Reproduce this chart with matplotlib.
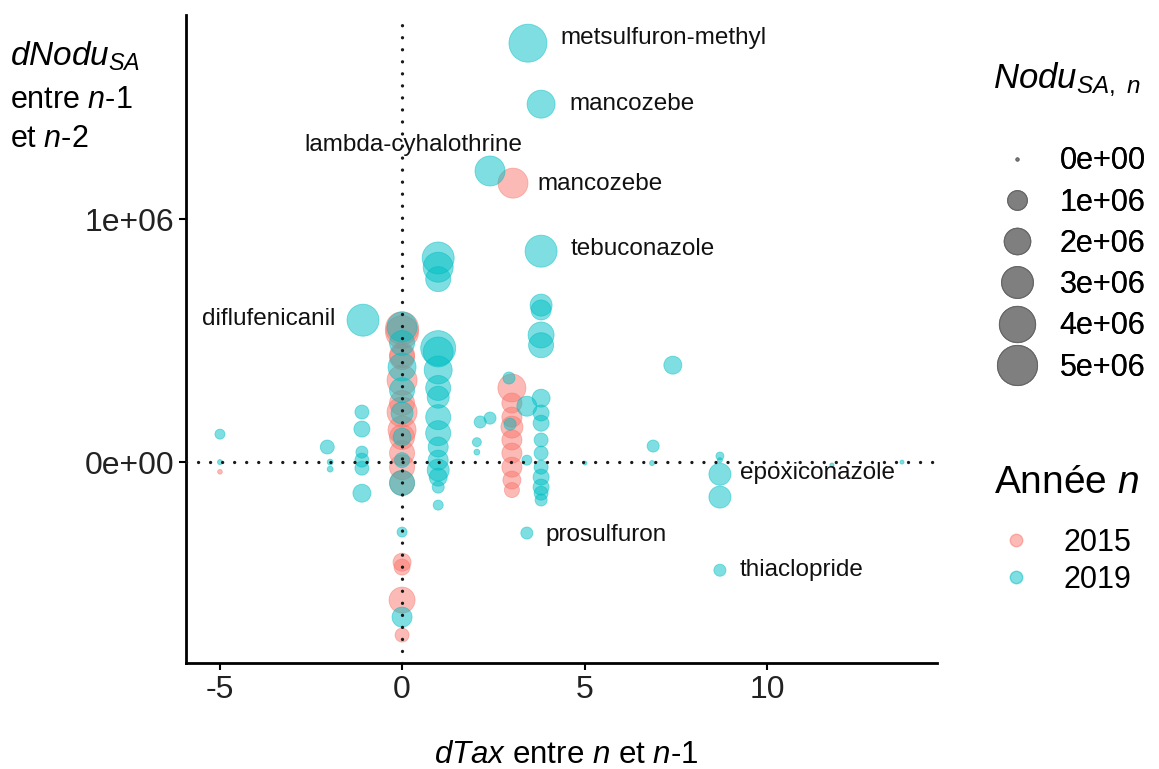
import numpy as np
import matplotlib
matplotlib.use("Agg")
import matplotlib.pyplot as plt
from matplotlib.lines import Line2D

plt.rcParams['font.family'] = ['Liberation Sans', 'DejaVu Sans']
plt.rcParams['mathtext.fontset'] = 'custom'
plt.rcParams['mathtext.rm'] = 'Liberation Sans'
plt.rcParams['mathtext.it'] = 'Liberation Sans:italic'

# 2015 points: dTax, dNodu (in 1e6), Nodu (in 1e6)
x_2015 = [0, 0, 0, 0, 0, 0, 0, 0, 0, 0, 0, 0, 0, 0, 0, 0,
          3.01, 3.01, 3.01, 3.01, 3.01, 3.01, 3.01, 3.01, 3.01,
          3.04, -4.99]
y_2015 = [0.551, 0.535, 0.440, 0.432, 0.337, 0.243, 0.206, 0.132, 0.103, 0.037, -0.021, -0.086,
          -0.412, -0.432, -0.568, -0.712,
          0.305, 0.243, 0.185, 0.144, 0.091, 0.037, -0.021, -0.074, -0.115,
          1.148, -0.040]
s_2015 = [3.29, 3.29, 1.77, 1.77, 2.66, 1.77, 2.66, 2.28, 1.77, 1.77, 1.77, 1.77,
          0.82, 0.62, 1.93, 0.44,
          2.28, 1.06, 1.06, 1.32, 1.06, 1.06, 1.06, 0.82, 0.53,
          2.66, 0.01]

# 2019 points
x_2019 = [3.45, 3.81, 2.41, 3.81, -1.07, 8.71, 8.71, 3.42, 8.71,
          0.99, 0.99, 0.99, 0.99, 0.99, 0.99, 0.99, 0.99, 0.99, 0.99, 0.99, 0.99, 0.99, 0.99, 0.99, 0.99,
          0, 0, 0, 0, 0, 0, 0, 0, 0, 0,
          3.81, 3.81, 3.81, 3.81, 3.81, 3.81, 3.81, 3.81, 3.81, 3.81, 3.81, 3.81, 3.81, 3.81,
          2.93, 2.96, 3.42, 3.42, 2.41, 2.14, 2.05, 2.05, 7.42, 6.88, 6.85, 8.71, 8.71,
          5.01, 11.78, 13.70, -4.99, -4.99, -2.05, -1.97, -1.97,
          -1.10, -1.10, -1.10, -1.10, -1.10, -1.10]
y_2019 = [1.724, 1.473, 1.198, 0.868, 0.584, -0.050, -0.144, -0.292, -0.445,
          0.840, 0.802, 0.753, 0.469, 0.453, 0.379, 0.305, 0.267, 0.185, 0.119, 0.062, 0.008, -0.033, -0.062, -0.103, -0.177,
          0.556, 0.490, 0.391, 0.296, 0.202, 0.103, 0.008, -0.086, -0.288, -0.638,
          0.646, 0.626, 0.523, 0.481, 0.263, 0.202, 0.160, 0.091, 0.037, -0.021, -0.062, -0.103, -0.128, -0.156,
          0.346, 0.156, 0.230, 0.008, 0.181, 0.165, 0.082, 0.041, 0.399, 0.066, -0.004, 0.025, 0.008,
          -0.004, -0.012, 0.0, 0.115, 0.0, 0.062, 0.0, -0.029,
          0.206, 0.136, 0.041, 0.008, -0.025, -0.128]
s_2019 = [4.47, 2.28, 2.66, 3.07, 3.07, 1.32, 1.32, 0.30, 0.30,
          3.07, 2.66, 1.77, 3.74, 2.66, 2.28, 1.77, 1.32, 1.77, 1.77, 1.06, 1.06, 1.32, 0.82, 0.30, 0.18,
          2.66, 1.77, 2.28, 1.77, 1.32, 0.82, 0.53, 1.77, 0.18, 1.06,
          1.32, 1.06, 1.93, 1.77, 0.82, 0.62, 0.62, 0.44, 0.44, 0.44, 0.62, 0.62, 0.44, 0.30,
          0.30, 0.30, 1.06, 0.18, 0.30, 0.30, 0.13, 0.03, 0.82, 0.30, 0.015, 0.09, 0.015,
          0.004, 0.004, 0.004, 0.18, 0.015, 0.44, 0.03, 0.03,
          0.44, 0.62, 0.30, 0.44, 0.44, 0.82]

labels = ['metsulfuron-methyl', 'mancozebe', 'lambda-cyhalothrine', 'mancozebe',
          'tebuconazole', 'diflufenicanil', 'epoxiconazole', 'prosulfuron', 'thiaclopride']
label_pos = [(4.33, 1.745, 'left'), (4.60, 1.473, 'left'), (3.29, 1.305, 'right'),
             (3.70, 1.144, 'left'), (4.63, 0.877, 'left'), (-1.84, 0.588, 'right'),
             (9.26, -0.045, 'left'), (3.92, -0.300, 'left'), (9.26, -0.444, 'left')]

legend_sizes = [0, 1, 2, 3, 4, 5]
size_labels = ['0e+00', '1e+06', '2e+06', '3e+06', '4e+06', '5e+06']
years = ['2015', '2019']
colors = ['#F8766D', '#00BFC4']


def diam(v):
    # diameter in points, area-like scaling
    return (3 + 37 * np.sqrt(np.asarray(v) / 5.0)) * 0.72


fig = plt.figure(figsize=(11.59, 7.69), dpi=100)
ax = fig.add_axes([0.1605, 0.1378, 0.648, 0.8427])

for xs, ys, ss, c in [(x_2015, y_2015, s_2015, colors[0]), (x_2019, y_2019, s_2019, colors[1])]:
    ax.scatter(np.array(xs), np.array(ys) * 1e6, s=diam(ss) ** 2, color=c, alpha=0.5,
               edgecolors=c, linewidths=0.6, zorder=2)

# reference lines, round dots about 12 px apart
ax.axhline(0, color='#1a1a1a', linestyle=(0, (0.01, 3.6)), linewidth=2.4,
           dash_capstyle='round', zorder=3)
ax.axvline(0, color='#1a1a1a', linestyle=(0, (0.01, 3.6)), linewidth=2.4,
           dash_capstyle='round', zorder=3)

for lab, (lx, ly, ha) in zip(labels, label_pos):
    ax.text(lx, ly * 1e6, lab, ha=ha, va='center', fontsize=17.5, color='#111111', zorder=4)

ax.set_xlim(-5.92, 14.66)
ax.set_ylim(-0.827e6, 1.84e6)
ax.set_xticks([-5, 0, 5, 10])
ax.set_xticklabels(['-5', '0', '5', '10'])
ax.set_yticks([0, 1e6])
ax.set_yticklabels(['0e+00', '1e+06'])
ax.tick_params(labelsize=23, length=5, width=1.5, colors='black', labelcolor='#222222')
for side in ['top', 'right']:
    ax.spines[side].set_visible(False)
for side in ['left', 'bottom']:
    ax.spines[side].set_linewidth(2)

fig.text(0.009, 0.915, r'$\mathit{dNodu}_{\mathit{SA}}$', fontsize=24, va='baseline')
fig.text(0.009, 0.870, r'entre $\mathit{n}$-$\mathit{1}$', fontsize=22, va='center')
fig.text(0.009, 0.819, r'et $\mathit{n}$-$\mathit{2}$', fontsize=22, va='center')
fig.text(0.489, 0.018, r'$\mathit{dTax}$ entre $\mathit{n}$ et $\mathit{n}$-$\mathit{1}$',
         fontsize=22.5, ha='center', va='center')

# size legend
fig.text(0.857, 0.896, r'$\mathit{Nodu}_{\mathit{SA,\ n}}$', fontsize=25, va='center')
size_handles = [Line2D([], [], marker='o', linestyle='', markersize=float(diam(v)),
                       markerfacecolor='#7f7f7f', markeredgecolor='#666666', markeredgewidth=0.8)
                for v in legend_sizes]
leg1 = fig.legend(size_handles, size_labels, fontsize=22,
                  loc='center left', bbox_to_anchor=(0.841, 0.656), frameon=False,
                  borderaxespad=0, labelspacing=0.37, handletextpad=0.38)
fig.add_artist(leg1)

# colour legend
fig.text(0.858, 0.372, r'Année $\mathit{n}$', fontsize=28, va='center')
col_handles = [Line2D([], [], marker='o', linestyle='', markersize=9, markerfacecolor=c,
                      markeredgecolor=c, alpha=0.5) for c in colors]
leg2 = fig.legend(col_handles, years, fontsize=22,
                  loc='center left', bbox_to_anchor=(0.840, 0.270), frameon=False,
                  borderaxespad=0, labelspacing=0.25, handletextpad=0.55)

fig.savefig('out.png', dpi=100)
